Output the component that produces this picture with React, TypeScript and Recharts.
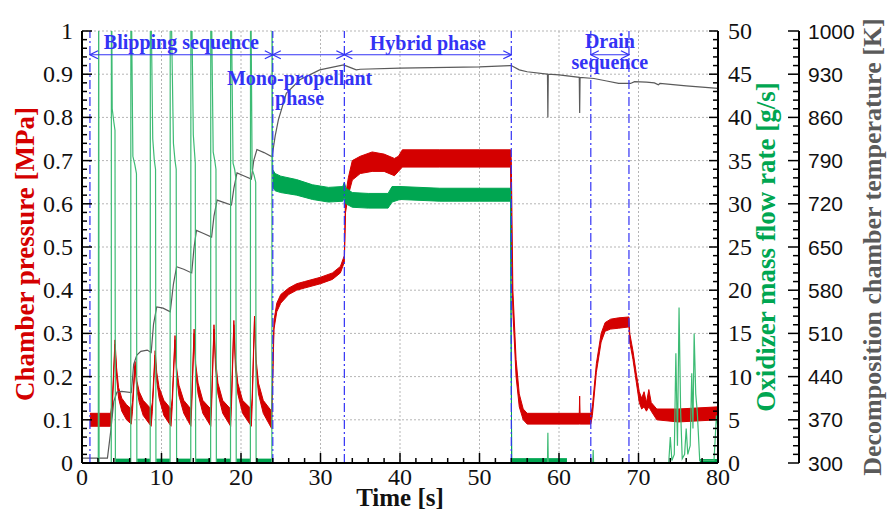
import React from 'react'
import {
  ComposedChart,
  Area,
  Line,
  XAxis,
  YAxis,
  CartesianGrid,
  ReferenceLine,
} from 'recharts'

// chamber pressure band [t (s), low (MPa), high (MPa)]
const pressureBand: [number, number, number][] = [
  [1.0, 0.085, 0.115], [3.6, 0.085, 0.115], [3.8, 0.12, 0.14], [4.15, 0.275, 0.285],
  [4.35, 0.2, 0.22], [4.6, 0.15, 0.175], [5.0, 0.12, 0.15], [5.6, 0.1, 0.135], [6.2, 0.09, 0.125],
  [6.35, 0.12, 0.14], [6.67, 0.225, 0.235], [6.9, 0.17, 0.19], [7.2, 0.14, 0.165], [7.7, 0.11, 0.145], [8.7, 0.085, 0.125],
  [8.85, 0.12, 0.14], [9.2, 0.25, 0.26], [9.4, 0.19, 0.21], [9.7, 0.15, 0.175], [10.3, 0.11, 0.145], [11.2, 0.085, 0.125],
  [11.35, 0.13, 0.15], [11.7, 0.285, 0.295], [11.9, 0.2, 0.22], [12.2, 0.155, 0.18], [12.8, 0.115, 0.145], [13.7, 0.085, 0.125],
  [13.8, 0.13, 0.15], [14.1, 0.3, 0.31], [14.3, 0.21, 0.23], [14.6, 0.16, 0.185], [15.2, 0.115, 0.145], [16.2, 0.085, 0.125],
  [16.3, 0.13, 0.15], [16.6, 0.31, 0.32], [16.8, 0.22, 0.24], [17.1, 0.16, 0.185], [17.7, 0.115, 0.145], [18.7, 0.085, 0.125],
  [18.8, 0.13, 0.15], [19.1, 0.32, 0.33], [19.3, 0.22, 0.24], [19.6, 0.16, 0.185], [20.2, 0.115, 0.145], [21.3, 0.085, 0.125],
  [21.4, 0.13, 0.15], [21.7, 0.33, 0.34], [21.9, 0.22, 0.24], [22.2, 0.16, 0.185], [22.8, 0.115, 0.145], [23.85, 0.08, 0.12],
  [24.0, 0.2, 0.22], [24.15, 0.31, 0.33], [24.5, 0.35, 0.37], [25, 0.37, 0.39], [26, 0.39, 0.405], [27, 0.4, 0.415],
  [28, 0.405, 0.42], [30, 0.415, 0.43], [31.5, 0.425, 0.44], [32.5, 0.44, 0.455], [33.0, 0.465, 0.48],
  [33.15, 0.58, 0.62], [33.5, 0.62, 0.66], [34, 0.655, 0.7], [35, 0.67, 0.71], [36.5, 0.675, 0.72], [38, 0.675, 0.715],
  [39.3, 0.665, 0.705], [39.8, 0.675, 0.71], [40.3, 0.685, 0.725], [45, 0.685, 0.725], [50, 0.685, 0.725], [53.9, 0.685, 0.725],
  [54.0, 0.5, 0.7], [54.2, 0.35, 0.4], [54.6, 0.2, 0.24], [55, 0.13, 0.16], [55.5, 0.1, 0.125], [56, 0.09, 0.115],
  [62.55, 0.09, 0.115], [62.6, 0.09, 0.155], [62.65, 0.09, 0.115], [64, 0.09, 0.115],
  [64.2, 0.11, 0.13], [64.7, 0.21, 0.23], [65.3, 0.28, 0.3], [65.8, 0.305, 0.325], [66.5, 0.31, 0.333],
  [67.5, 0.312, 0.336], [68.8, 0.315, 0.338], [68.9, 0.28, 0.3], [69.3, 0.24, 0.26], [69.7, 0.19, 0.21],
  [70.1, 0.14, 0.165], [70.4, 0.125, 0.15], [70.7, 0.13, 0.165], [71.0, 0.12, 0.14], [71.3, 0.13, 0.17],
  [71.6, 0.12, 0.14], [72.3, 0.1, 0.125], [75, 0.095, 0.125], [80, 0.1, 0.13],
]

// oxidizer mass flow noise band [t, low (g/s), high (g/s)], null breaks the band
const flowBand: [number, number | null, number | null][] = [
  [4.25, 0, 0.45], [6.1, 0, 0.45], [6.12, null, null],
  [6.95, 0, 0.45], [8.55, 0, 0.45], [8.57, null, null],
  [9.35, 0, 0.45], [11.05, 0, 0.45], [11.07, null, null],
  [11.95, 0, 0.45], [13.65, 0, 0.45], [13.67, null, null],
  [14.35, 0, 0.45], [16.15, 0, 0.45], [16.17, null, null],
  [16.95, 0, 0.45], [18.65, 0, 0.45], [18.67, null, null],
  [19.45, 0, 0.45], [21.15, 0, 0.45], [21.17, null, null],
  [21.95, 0, 0.45], [23.85, 0, 0.45], [23.87, null, null],
  [23.95, 32, 34], [24.3, 31.5, 33.5], [25, 31.3, 33.2], [27, 31, 32.8], [29, 30.5, 32.2],
  [31, 30.2, 31.9], [32.8, 30.3, 32], [33.0, 30.8, 32.5], [33.2, 30, 31.8], [34, 29.6, 31.3],
  [36, 29.5, 31.2], [38.5, 29.5, 31.2], [39, 30.2, 32], [40, 30.5, 32], [45, 30.3, 31.8],
  [50, 30.3, 31.8], [53.9, 30.3, 31.8], [54.05, 0, 0.5], [61, 0, 0.5], [61.02, null, null],
  [77.7, 0, 0.4], [80, 0, 0.4],
]

// oxidizer mass flow transients [t, g/s]
const flowSpikes: [number, number | null][] = [
  [2.05, 0], [2.1, 60], [2.15, 0], [2.2, null],
  [3.68, 0], [3.7, 60], [3.8, 41], [4.0, 39.5], [4.15, 38.5], [4.2, 0], [4.22, null],
  [6.13, 0], [6.15, 60], [6.4, 35.5], [6.65, 34.5], [6.85, 33.5], [6.9, 0], [6.92, null],
  [8.58, 0], [8.6, 60], [8.9, 37.5], [9.1, 35], [9.25, 34], [9.3, 0], [9.32, null],
  [11.08, 0], [11.1, 60], [11.5, 37], [11.7, 35], [11.85, 34], [11.9, 0], [11.92, null],
  [13.68, 0], [13.7, 60], [14.0, 38], [14.15, 36], [14.25, 34.7], [14.3, 0], [14.32, null],
  [16.18, 0], [16.2, 60], [16.5, 36], [16.7, 35], [16.85, 34], [16.9, 0], [16.92, null],
  [18.68, 0], [18.7, 60], [19.0, 34.7], [19.2, 34], [19.35, 33], [19.4, 0], [19.42, null],
  [21.18, 0], [21.2, 60], [21.4, 34], [21.65, 33.3], [21.85, 32.5], [21.9, 0], [21.92, null],
  [23.88, 0], [23.9, 60], [23.97, 33], [24.0, null],
  [58.55, 0], [58.6, 3.5], [58.65, 0], [58.7, null],
  [64.25, 0], [64.3, 1.5], [64.35, 0], [64.4, null],
  [73.8, 0], [74.0, 3], [74.2, 0.3], [74.5, 1], [74.7, 12.7], [74.9, 2], [75.1, 18], [75.3, 6],
  [75.5, 0.5], [75.8, 1], [76.0, 4], [76.2, 1], [76.5, 2], [76.7, 10.4], [76.85, 4], [77.0, 15],
  [77.2, 8], [77.4, 5.8], [77.7, 0.3], [79.5, 0.3], [79.8, 5.5], [80, 4],
]

// decomposition chamber temperature [t, K]
const temperature: [number, number][] = [
  [0, 308], [3.2, 308], [3.6, 350], [4.0, 400], [4.4, 415], [5.0, 416], [6.2, 414],
  [6.5, 460], [6.9, 475], [7.4, 481], [8.2, 483], [8.7, 479],
  [9.0, 525], [9.4, 553], [10.2, 551], [11.1, 545],
  [11.5, 590], [11.9, 618], [12.8, 614], [13.8, 608],
  [14.1, 650], [14.4, 677], [15.3, 672], [16.3, 666],
  [16.6, 700], [17.0, 726], [17.9, 722], [18.8, 718],
  [19.1, 745], [19.5, 770], [20.4, 765], [21.3, 760],
  [21.6, 790], [22.0, 808], [22.9, 803], [23.9, 796],
  [24.3, 830], [24.7, 856], [25.7, 899], [27.4, 921], [29.9, 937], [32.9, 945],
  [33.7, 941], [34.5, 937], [35, 938], [40, 940], [50, 942], [54, 944],
  [55, 937], [56, 934], [58.5, 930], [58.55, 930], [58.6, 860], [58.65, 930], [60, 929],
  [62.55, 925], [62.6, 867], [62.65, 925], [64.4, 923], [66, 919], [67.5, 915], [69, 915],
  [69.5, 918], [71, 917], [72, 916], [72.5, 913], [72.7, 915], [76, 911], [80, 907],
]

// phase boundaries (s)
const phaseLines = [1, 24, 33, 54, 64, 68.8]
const phases = [
  { from: 1, to: 24, lines: ['Blipping sequence'], dy: [-6], dx: 0 },
  { from: 24, to: 33, lines: ['Mono-propellant', 'phase'], dy: [30, 50], dx: -9 },
  { from: 33, to: 54, lines: ['Hybrid phase'], dy: [-5], dx: 0 },
  { from: 64, to: 68.8, lines: ['Drain', 'sequence'], dy: [-7, 14], dx: 0 },
]

const xMajor = [0, 10, 20, 30, 40, 50, 60, 70, 80]
const pMajor = [0, 0.1, 0.2, 0.3, 0.4, 0.5, 0.6, 0.7, 0.8, 0.9, 1]
const mMajor = [0, 5, 10, 15, 20, 25, 30, 35, 40, 45, 50]
const tMajor = [300, 370, 440, 510, 580, 650, 720, 790, 860, 930, 1000]

const withMinor = (majors: number[]) => {
  const out: number[] = []
  for (let i = 0; i < majors.length - 1; i++) {
    const step = (majors[i + 1] - majors[i]) / 5
    for (let k = 0; k < 5; k++) out.push(+(majors[i] + k * step).toFixed(6))
  }
  out.push(majors[majors.length - 1])
  return out
}
const isMajor = (majors: number[], v: number) => majors.some((m) => Math.abs(m - v) < 1e-6)

const pressureData = pressureBand.map(([t, lo, hi]) => ({ t, r: [lo, hi] }))
const flowBandData = flowBand.map(([t, lo, hi]) => ({ t, r: lo == null ? null : [lo, hi] }))
const flowSpikeData = flowSpikes.map(([t, v]) => ({ t, v }))
const tempData = temperature.map(([t, v]) => ({ t, v }))

const RED = '#d40000'
const GREEN = '#00a651'
const GRAY = '#5a5a5a'
const BLUE = '#3333f5'
const SERIF = 'Liberation Serif, DejaVu Serif, serif'
const SANS = 'Liberation Sans, Arial, sans-serif'

const LeftTick = (props: any) => {
  const { x, y, payload } = props
  const major = isMajor(pMajor, payload.value)
  return (
    <g>
      <line x1={x} x2={x + (major ? 10 : 5)} y1={y} y2={y} stroke="#000" strokeWidth={1.5} />
      {major && (
        <text x={x - 9} y={y} textAnchor="end" dominantBaseline="central" fontSize={24} fontFamily={SERIF} fill="#111">
          {Number(payload.value.toFixed(1)).toString()}
        </text>
      )}
    </g>
  )
}

const FlowTick = (props: any) => {
  const { x, y, payload } = props
  const major = isMajor(mMajor, payload.value)
  return (
    <g>
      <line x1={x - (major ? 9 : 5)} x2={x} y1={y} y2={y} stroke="#000" strokeWidth={1.5} />
      {major && (
        <text x={x + 10} y={y} textAnchor="start" dominantBaseline="central" fontSize={24} fontFamily={SERIF} fill="#111">
          {payload.value}
        </text>
      )}
    </g>
  )
}

const TempTick = (props: any) => {
  const { x, y, payload } = props
  const major = isMajor(tMajor, payload.value)
  return (
    <g>
      <line x1={x - (major ? 11 : 6)} x2={x} y1={y} y2={y} stroke="#000" strokeWidth={1.5} />
      {major && (
        <text x={x + 9} y={y} textAnchor="start" dominantBaseline="central" fontSize={21} fontFamily={SANS} fill="#111">
          {payload.value}
        </text>
      )}
    </g>
  )
}

const TimeTick = (props: any) => {
  const { x, y, payload } = props
  const major = isMajor(xMajor, payload.value)
  return (
    <g>
      <line x1={x} x2={x} y1={y - (major ? 10 : 5)} y2={y} stroke="#000" strokeWidth={1.5} />
      {major && (
        <text x={x} y={y + 22} textAnchor="middle" fontSize={24} fontFamily={SERIF} fill="#111">
          {payload.value}
        </text>
      )}
    </g>
  )
}

const AxisTitle = (props: any) => {
  const { viewBox, text, color, offsetX, offsetY, size } = props
  if (!viewBox) return null
  const cx = viewBox.x + offsetX
  const cy = viewBox.y + viewBox.height / 2 + offsetY
  return (
    <text x={cx} y={cy} transform={`rotate(-90 ${cx} ${cy})`} textAnchor="middle" dominantBaseline="central"
      fontSize={size} fontWeight="bold" fontFamily={SERIF} fill={color}>
      {text}
    </text>
  )
}

const TimeTitle = (props: any) => {
  const { viewBox } = props
  if (!viewBox) return null
  return (
    <text x={viewBox.x + viewBox.width / 2} y={viewBox.y + 43} textAnchor="middle" fontSize={25}
      fontWeight="bold" fontFamily={SERIF} fill="#111">
      Time [s]
    </text>
  )
}

const PhaseText = (props: any) => {
  const { viewBox, lines, dy, dx } = props
  if (!viewBox) return null
  const cx = viewBox.x + viewBox.width / 2 + dx
  return (
    <g>
      {lines.map((l: string, i: number) => (
        <text key={l} x={cx} y={viewBox.y + dy[i]} textAnchor="middle" fontSize={20} fontWeight="bold"
          fontFamily={SERIF} fill={BLUE}>
          {l}
        </text>
      ))}
    </g>
  )
}

export default function App() {
  return (
    <div style={{ position: 'absolute', left: 0, top: 0, width: 887, height: 511, background: '#fff' }}>
      <ComposedChart width={887} height={511} margin={{ top: 31, right: 0, bottom: 0, left: 0 }}>
        <defs>
          <marker id="arrowHead" markerWidth={10} markerHeight={10} refX={9} refY={5} orient="auto-start-reverse"
            markerUnits="userSpaceOnUse">
            <path d="M1,1 L9,5 L1,9" fill="none" stroke={BLUE} strokeWidth={1.3} />
          </marker>
        </defs>
        <CartesianGrid yAxisId="pres" stroke="#b5b5b5" strokeDasharray="2 2"
          horizontalValues={pMajor.slice(1)} verticalValues={xMajor.slice(1, -1)} />
        <XAxis type="number" dataKey="t" domain={[0, 80]} ticks={withMinor(xMajor)} interval={0}
          height={48} tickSize={0} tickMargin={0} tickLine={false} tick={<TimeTick />}
          axisLine={{ stroke: '#000', strokeWidth: 2 }} label={<TimeTitle />} allowDataOverflow />
        <YAxis yAxisId="pres" orientation="left" width={82} domain={[0, 1]} ticks={withMinor(pMajor)} interval={0}
          tickSize={0} tickMargin={0} tickLine={false} tick={<LeftTick />}
          axisLine={{ stroke: '#000', strokeWidth: 2 }}
          label={<AxisTitle text="Chamber pressure [MPa]" color={RED} offsetX={25} offsetY={7} size={27} />} />
        <YAxis yAxisId="flow" orientation="right" width={81} domain={[0, 50]} ticks={withMinor(mMajor)} interval={0}
          tickSize={0} tickMargin={0} tickLine={false} tick={<FlowTick />} allowDataOverflow
          axisLine={{ stroke: '#000', strokeWidth: 2 }}
          label={<AxisTitle text="Oxidizer mass flow rate [g/s]" color={GREEN} offsetX={48} offsetY={0} size={27} />} />
        <YAxis yAxisId="temp" orientation="right" width={88} domain={[300, 1000]} ticks={withMinor(tMajor)} interval={0}
          tickSize={0} tickMargin={0} tickLine={false} tick={<TempTick />}
          axisLine={{ stroke: '#000', strokeWidth: 2 }}
          label={<AxisTitle text="Decomposition chamber temperature [K]" color={GRAY} offsetX={73} offsetY={0} size={26} />} />

        <Area yAxisId="pres" data={pressureData} dataKey="r" type="linear" stroke={RED} strokeWidth={1}
          fill={RED} fillOpacity={1} dot={false} activeDot={false} isAnimationActive={false} />
        <Line yAxisId="temp" data={tempData} dataKey="v" type="linear" stroke={GRAY} strokeWidth={1.2}
          dot={false} activeDot={false} isAnimationActive={false} />
        <Area yAxisId="flow" data={flowBandData} dataKey="r" type="linear" stroke={GREEN} strokeWidth={1}
          fill={GREEN} fillOpacity={1} dot={false} activeDot={false} isAnimationActive={false} />
        <Line yAxisId="flow" data={flowSpikeData} dataKey="v" type="linear" stroke="#3dbb74" strokeWidth={1.2}
          dot={false} activeDot={false} isAnimationActive={false} />

        {phaseLines.map((t) => (
          <ReferenceLine key={t} yAxisId="pres" x={t} stroke={BLUE} strokeWidth={1.2} strokeDasharray="9 3 2 3" />
        ))}
        {phases.map((ph) => (
          <ReferenceLine key={ph.from} yAxisId="pres" segment={[{ x: ph.from, y: 0.945 }, { x: ph.to, y: 0.945 }]}
            stroke={BLUE} strokeWidth={1.2} markerStart="url(#arrowHead)" markerEnd="url(#arrowHead)"
            label={<PhaseText lines={ph.lines} dy={ph.dy} dx={ph.dx} />} />
        ))}
      </ComposedChart>
    </div>
  )
}
